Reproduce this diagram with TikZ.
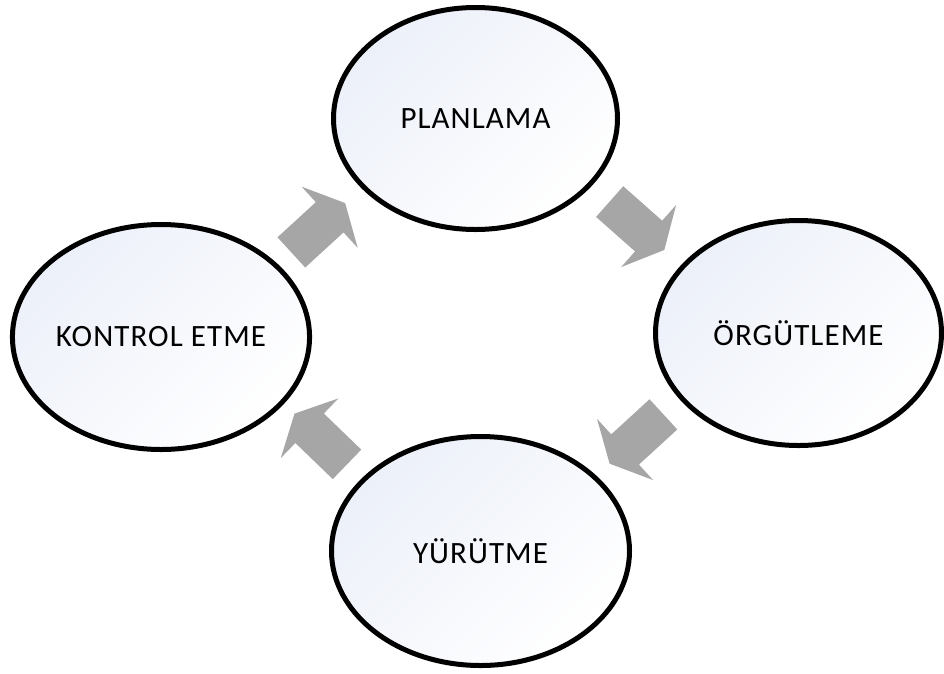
\documentclass[tikz,border=0pt]{standalone}
\usepackage{fontspec}
\setmainfont{Carlito}
\usetikzlibrary{shapes.geometric,calc}

\definecolor{arrowgray}{RGB}{166,166,166}
\definecolor{paleblue}{RGB}{236,240,249}

\newfontfamily\stagefont[LetterSpace=3.5]{Carlito}

\tikzset{
  stage/.style={
    ellipse, draw=black, line width=5pt, inner sep=0pt, outer sep=0pt,
    shading=axis, top color=paleblue, bottom color=white, shading angle=45,
    font=\stagefont\fontsize{31}{36}\selectfont, text=black
  },
  blockarrow/.pic={
    \fill[arrowgray] (-36.5,-20.5) -- (15.5,-20.5) -- (15.5,-41.5) -- (36.5,0)
      -- (15.5,41.5) -- (15.5,20.5) -- (-36.5,20.5) -- cycle;
  }
}

\begin{document}
\begin{tikzpicture}[x=1pt,y=-1pt]
  \useasboundingbox (0,0) rectangle (944,673);

  % the four stages of the management cycle
  \node[stage, minimum width=284pt, minimum height=222pt] (plan) at (475.5,118.5) {PLANLAMA};
  \node[stage, minimum width=286pt, minimum height=225pt] (org)  at (798.5,333)   {ÖRGÜTLEME};
  \node[stage, minimum width=298pt, minimum height=229pt] (yur)  at (480.5,551)   {YÜRÜTME};
  \node[stage, minimum width=297pt, minimum height=225pt] (kon)  at (161,337)     {KONTROL ETME};

  % block arrows between consecutive stages
  \coordinate (a1) at ($(kon)!0.5!(plan)$);
  \coordinate (a2) at ($(plan)!0.5!(org)$);
  \coordinate (a3) at ($(org)!0.5!(yur)+(-3,-3)$);
  \coordinate (a4) at ($(yur)!0.5!(kon)+(0,-5)$);

  \pic[rotate=42.5]  at (a1) {blockarrow};
  \pic[rotate=-41.5] at (a2) {blockarrow};
  \pic[rotate=-137.5] at (a3) {blockarrow};
  \pic[rotate=136]   at (a4) {blockarrow};
\end{tikzpicture}
\end{document}
